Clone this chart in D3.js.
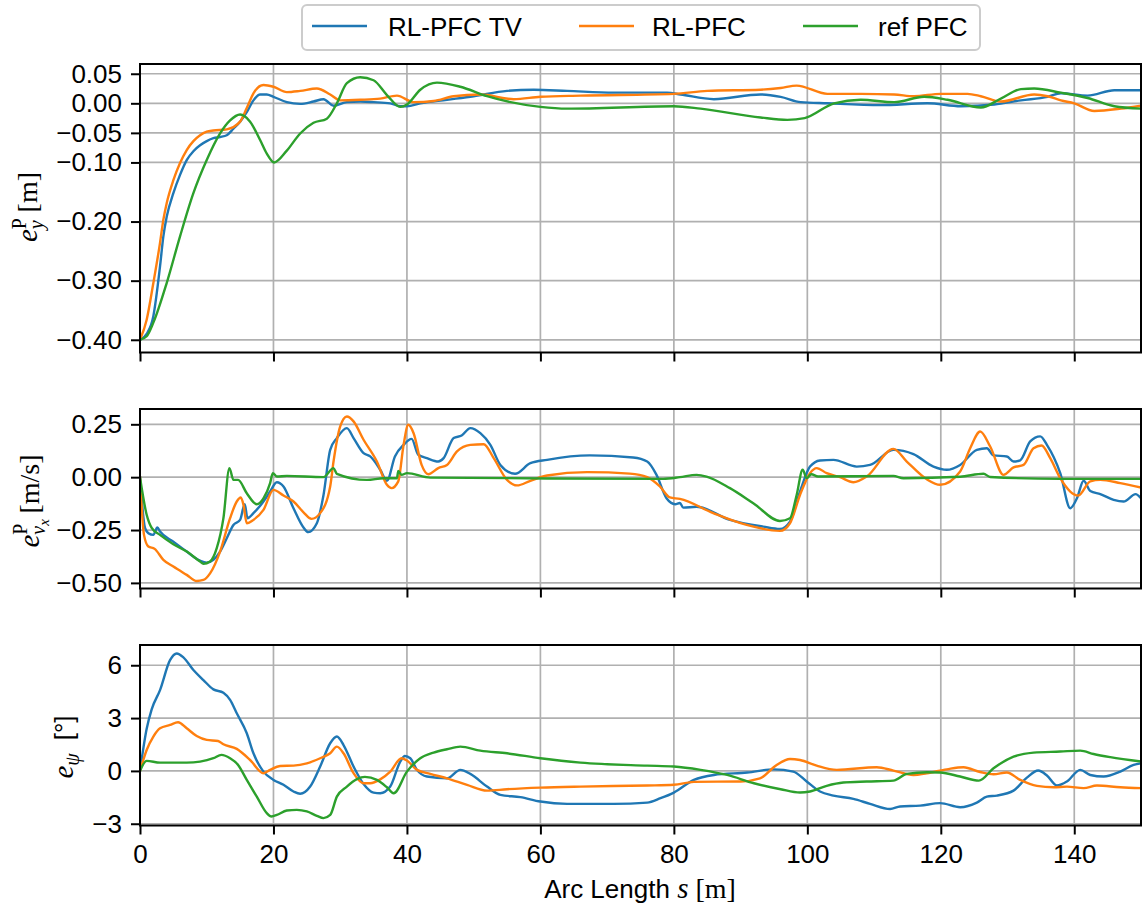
<!DOCTYPE html>
<html><head><meta charset="utf-8">
<script src="https://cdn.jsdelivr.net/npm/d3@7"></script>
<style>body{margin:0;background:#fff} svg{display:block}</style>
</head><body><svg id="c" width="1142" height="909"></svg>
<script>
// ---------------- DATA ----------------
const seriesNames = ["RL-PFC TV", "RL-PFC", "ref PFC"];
const seriesColors = ["#1f77b4", "#ff7f0e", "#2ca02c"];
const xTicks = [0, 20, 40, 60, 80, 100, 120, 140];
const eyTicks = [0.05, 0.00, -0.05, -0.10, -0.20, -0.30, -0.40];
const evTicks = [0.25, 0.00, -0.25, -0.50];
const epTicks = [6, 3, 0, -3];

// Panel 1: lateral error e_y [m]
const eyTvS = [0,1,2,3,3.5,4,5,6,7,8,9,10,11,12,13,14,15,16,17,18,19,20,22,24,26,27.5,29,31,33,35,37.5,39,40,42,46,50,55,59,64,71,79,81,86,93,96,99,103,111,118,123,128,132,136,138,142,146,150];
const eyTvV = [-0.40,-0.39,-0.36,-0.276,-0.225,-0.192,-0.152,-0.121,-0.096,-0.081,-0.071,-0.064,-0.059,-0.057,-0.054,-0.043,-0.031,-0.015,0.005,0.015,0.015,0.011,0.002,-0.001,0.003,0.007,-0.004,0.002,0.003,0.002,0.0,-0.005,-0.005,0.0,0.006,0.012,0.021,0.023,0.021,0.018,0.018,0.015,0.007,0.015,0.011,0.002,0.0,-0.003,0.0,-0.005,-0.002,0.005,0.011,0.017,0.013,0.022,0.022];
const eyRlS = [0,1,2,3,3.5,4,5,6,7,8,9,10,11,13,15,16,17,18.5,20,22,24,26.5,28.5,30,33,36,38.5,41,44,47,51,56,60,66,80,85,93,96,98.4,103,108,113,116,120,124,126,129,134,136,138,140,143,147,150];
const eyRlV = [-0.40,-0.366,-0.304,-0.236,-0.197,-0.169,-0.13,-0.101,-0.079,-0.064,-0.054,-0.048,-0.046,-0.044,-0.031,-0.008,0.017,0.031,0.028,0.019,0.021,0.025,0.015,0.005,0.006,0.008,0.013,0.002,0.004,0.012,0.015,0.007,0.011,0.013,0.016,0.021,0.023,0.026,0.030,0.016,0.016,0.015,0.012,0.016,0.016,0.012,0.003,0.015,0.012,0.005,0.0,-0.013,-0.009,-0.004];
const eyRefS = [0,1,2,4,6,8,10,12,13.5,15,16.5,18,19,20.1,22,24,26,28,29.5,31,33,35,37,39,40,42,44.5,48,52,60,64,80,84,93,97,99.6,104,108,113,117.5,121,126,129,132,134,138,142,146,150];
const eyRefV = [-0.40,-0.394,-0.371,-0.304,-0.225,-0.152,-0.096,-0.051,-0.029,-0.019,-0.031,-0.062,-0.085,-0.10,-0.08,-0.051,-0.033,-0.026,0.0,0.034,0.044,0.039,0.014,-0.006,-0.002,0.023,0.035,0.028,0.012,-0.006,-0.009,-0.005,-0.009,-0.024,-0.028,-0.025,0.0,0.006,0.002,0.011,0.006,-0.007,0.008,0.024,0.025,0.018,0.009,-0.005,-0.009];

// Panel 2: velocity error e_vx [m/s]
const evTvS = [0,0.75,1.25,2,2.6,3,5,7,9,10,11,12,13,14,15,15.7,16.1,17,18.5,19.5,20.5,21.5,23,24.5,25.2,26.5,27.5,28.5,29.5,31,32,33.5,34.5,36,37,38.2,39.5,40.7,41.7,43,44.7,45.5,47,48.2,49.5,51,52.5,54,56.2,58.5,61,67.4,73.9,76,77.4,78.9,80.2,80.9,81.4,83.4,88.4,93.4,95.9,97.4,98.9,100.4,101.9,103.9,107.4,109.4,112.9,115.9,118.9,120.9,122.9,125.4,126.9,127.9,129.9,130.9,131.9,133.4,134.9,135.9,137.9,139.4,140.4,141.4,142.4,143.9,145.9,147.4,149.2,150];
const evTvV = [0,-0.24,-0.265,-0.273,-0.238,-0.257,-0.305,-0.352,-0.395,-0.404,-0.391,-0.352,-0.289,-0.226,-0.202,-0.128,-0.194,-0.17,-0.115,-0.068,-0.024,-0.044,-0.147,-0.238,-0.26,-0.218,-0.084,0.129,0.185,0.232,0.185,0.114,0.098,0.035,-0.017,0.098,0.153,0.181,0.106,0.09,0.074,0.09,0.185,0.197,0.232,0.208,0.153,0.058,0.016,0.066,0.082,0.103,0.093,0.074,0.011,-0.1,-0.128,-0.122,-0.144,-0.14,-0.202,-0.234,-0.245,-0.21,-0.068,0.05,0.079,0.082,0.05,0.058,0.129,0.109,0.05,0.035,0.058,0.129,0.137,0.103,0.098,0.074,0.08,0.169,0.193,0.153,0.019,-0.147,-0.1,-0.017,-0.065,-0.08,-0.107,-0.115,-0.08,-0.1];
const evRlS = [0,0.6,1.25,2.2,3.5,5,7,8.5,9.5,10.5,12,13.5,14.5,15.1,15.5,16,17,18.5,20,21.5,23,24.5,25.7,27,28.5,29,30,31,32,33.5,35.5,37,37.7,38.7,39.5,40.2,41,42.2,43.2,44.7,46,47.5,49.5,51.5,53,55,56.5,58.5,61,67,73.4,76,77.9,79.4,80.9,85.9,90.9,95.9,97.4,98.9,100.4,101.4,102.9,104.9,106.9,108.9,112.9,114.9,117.9,119.9,122.9,124.4,125.9,127.4,129.4,130.9,132.4,133.9,135.1,136.4,137.9,139.4,140.6,142.4,143.9,146.9,150];
const evRlV = [0,-0.273,-0.328,-0.339,-0.391,-0.423,-0.462,-0.491,-0.486,-0.455,-0.352,-0.194,-0.115,-0.096,-0.13,-0.218,-0.202,-0.155,-0.06,-0.087,-0.115,-0.166,-0.197,-0.17,-0.044,0.074,0.24,0.287,0.264,0.177,0.074,-0.036,-0.052,-0.02,0.153,0.248,0.208,0.058,0.014,0.043,0.058,0.122,0.153,0.156,0.09,-0.013,-0.039,-0.017,0.008,0.024,0.017,0.0,-0.044,-0.096,-0.103,-0.17,-0.226,-0.254,-0.218,-0.084,0.019,0.043,0.019,0.0,-0.024,0.003,0.134,0.074,-0.01,-0.036,0.027,0.137,0.216,0.145,0.011,0.046,0.058,0.137,0.15,0.09,-0.005,-0.068,-0.087,-0.02,-0.013,-0.028,-0.049];
const evRefS = [0,1,1.75,3,5,7,9,9.5,10.5,11.5,12.5,13.4,14,14.7,16,17.5,18.5,19.5,19.9,20.5,22,27.5,29,29.5,34,36.5,38.5,38.7,39.2,40,43.5,61,78.4,80.9,83.4,84.9,88.4,91.9,95.9,97.4,98.4,99.3,99.9,100.6,101.6,112.9,114.4,122.9,126.4,127.4,137.9,150];
const evRefV = [0,-0.178,-0.24,-0.273,-0.317,-0.352,-0.399,-0.41,-0.399,-0.336,-0.194,0.043,-0.013,-0.013,-0.076,-0.128,-0.1,-0.028,0.019,0.003,0.006,0.0,0.043,0.016,-0.013,-0.005,-0.005,0.03,0.011,0.019,-0.002,-0.006,-0.008,0.0,0.011,0.003,-0.052,-0.123,-0.207,-0.194,-0.084,0.035,-0.005,0.014,0.003,0.006,-0.005,0.002,0.016,0.001,-0.008,-0.008];

// Panel 3: heading error e_psi [deg]
const epTvS = [0,1,1.75,3,4.5,5.5,6.5,8,9.5,11,12.5,13.5,14.5,16,17,18.5,20,21.5,23,24,25.5,27,28.5,29.5,30.5,32,33.5,35,36,37.5,39,39.7,40.5,41.5,43,46,48,49.5,52,54,57,60,64,71,76,78,80,83,86,91,95,97.9,99.9,101.9,103.9,106.9,109.4,112.4,113.9,116.9,119.9,122.9,125.4,126.9,128.4,130.9,132.9,134.6,135.9,137.4,138.9,140.9,142.4,144.4,146.9,148.9,150];
const epTvV = [0,2.4,3.5,4.59,6.29,6.67,6.45,5.73,5.16,4.63,4.44,4.03,3.27,2.14,1.0,-0.04,-0.51,-0.79,-1.17,-1.3,-0.89,0.25,1.57,1.95,1.47,0.25,-0.74,-1.23,-1.27,-0.89,0.53,0.85,0.72,0.06,-0.32,-0.42,0.06,-0.17,-0.89,-1.36,-1.49,-1.74,-1.87,-1.87,-1.8,-1.55,-1.23,-0.51,-0.23,-0.09,0.09,-0.04,-0.6,-1.17,-1.4,-1.59,-1.87,-2.16,-2.02,-1.97,-1.83,-2.06,-1.8,-1.46,-1.4,-1.12,-0.38,0.02,-0.26,-0.83,-0.6,0.06,-0.23,-0.32,-0.04,0.34,0.43];
const epRlS = [0,1,2,3,4.5,5.7,7,8.5,10,11.7,12.5,14.5,16.5,18.5,19.5,21,23,25,27,28.5,29.5,30.5,32,33.5,34.5,36,37.5,39.2,40,41.5,43.5,46,49,52,55,60,66,76,80,83,90,92.9,95.4,97.4,98.9,101.4,104.4,110.4,112.9,115.9,117.9,120.9,123.4,125.9,127.9,129.9,131.9,134.4,136.9,138.9,141.4,143.4,146.9,150];
const epRlV = [0,1.19,1.95,2.42,2.61,2.76,2.42,1.98,1.76,1.7,1.51,1.25,0.62,-0.13,0.06,0.28,0.3,0.43,0.72,1.0,1.38,1.0,-0.13,-0.7,-0.7,-0.48,-0.04,0.72,0.59,0.06,-0.17,-0.42,-0.79,-1.12,-1.04,-0.95,-0.89,-0.83,-0.79,-0.62,-0.6,-0.42,0.34,0.68,0.62,0.3,0.06,0.21,0.02,-0.23,-0.13,0.09,0.21,-0.06,-0.19,-0.09,-0.51,-0.85,-0.93,-0.89,-0.98,-0.83,-0.93,-0.98];
const epRefS = [0,1,3,7,9,11,12.2,13.5,14.7,16,17.5,19,19.7,20.5,22,23.5,25,26.5,27.5,28.5,29.5,31,32.5,33.7,35.5,37,38,40,42,44,46,48,51,55,60,66,76,80,84,88,92,96,98.9,100.4,102.9,105.4,108.9,112.9,114.9,117.9,119.9,122.9,125.7,127.9,130.9,133.9,137.9,140.9,142.9,145.4,150];
const epRefV = [0,0.57,0.47,0.47,0.53,0.72,0.91,0.72,0.34,-0.51,-1.46,-2.4,-2.59,-2.5,-2.25,-2.21,-2.3,-2.55,-2.68,-2.5,-1.46,-0.89,-0.47,-0.34,-0.51,-0.93,-1.27,-0.04,0.72,1.04,1.23,1.38,1.15,1.0,0.72,0.47,0.3,0.25,0.06,-0.23,-0.7,-1.04,-1.23,-1.17,-0.85,-0.66,-0.6,-0.55,-0.17,-0.08,-0.09,-0.32,-0.55,0.15,0.81,1.04,1.1,1.15,0.96,0.78,0.53];

// ---------------- DRAWING ----------------
const SANS = '"Liberation Sans", Arial, Helvetica, sans-serif';
const SERIF = '"Liberation Serif", "Times New Roman", serif';
const FS = 26;
const svg = d3.select('#c');
const X0 = 140, X1 = 1141;
const x = d3.scaleLinear().domain([0, 150]).range([X0, X1]);
const zip = (s, v) => s.map((d, i) => [d, v[i]]);

const panels = [
  { top: 64, bottom: 352.5, domain: [-0.4215, 0.0665], ticks: eyTicks, fmt: d3.format('.2f'),
    data: [zip(eyTvS, eyTvV), zip(eyRlS, eyRlV), zip(eyRefS, eyRefV)], xLabels: false },
  { top: 409, bottom: 588.5, domain: [-0.5265, 0.3224], ticks: evTicks, fmt: d3.format('.2f'),
    data: [zip(evTvS, evTvV), zip(evRlS, evRlV), zip(evRefS, evRefV)], xLabels: false },
  { top: 645, bottom: 825.5, domain: [-3.1, 7.15], ticks: epTicks, fmt: d3.format('d'),
    data: [zip(epTvS, epTvV), zip(epRlS, epRlV), zip(epRefS, epRefV)], xLabels: true }
];

const defs = svg.append('defs');
panels.forEach((p, pi) => {
  const y = d3.scaleLinear().domain(p.domain).range([p.bottom, p.top]);
  defs.append('clipPath').attr('id', 'clip' + pi).append('rect')
    .attr('x', X0).attr('y', p.top).attr('width', X1 - X0).attr('height', p.bottom - p.top);
  const g = svg.append('g');
  g.selectAll('.gx').data(xTicks).enter().append('line')
    .attr('x1', d => x(d)).attr('x2', d => x(d)).attr('y1', p.top).attr('y2', p.bottom)
    .attr('stroke', '#b0b0b0').attr('stroke-width', 1.7);
  g.selectAll('.gy').data(p.ticks).enter().append('line')
    .attr('x1', X0).attr('x2', X1).attr('y1', d => y(d)).attr('y2', d => y(d))
    .attr('stroke', '#b0b0b0').attr('stroke-width', 1.7);
  const line = d3.line().x(d => x(d[0])).y(d => y(d[1])).curve(d3.curveMonotoneX);
  const lg = g.append('g').attr('clip-path', `url(#clip${pi})`);
  p.data.forEach((ser, si) => {
    lg.append('path').attr('d', line(ser)).attr('fill', 'none')
      .attr('stroke', seriesColors[si]).attr('stroke-width', 2.4)
      .attr('stroke-linejoin', 'round').attr('stroke-linecap', 'square');
  });
  g.append('rect').attr('x', X0).attr('y', p.top).attr('width', X1 - X0).attr('height', p.bottom - p.top)
    .attr('fill', 'none').attr('stroke', '#000').attr('stroke-width', 2);
  const ya = g.append('g').attr('transform', `translate(${X0},0)`)
    .call(d3.axisLeft(y).tickValues(p.ticks).tickFormat(p.fmt).tickSize(9).tickPadding(9));
  ya.select('.domain').remove();
  ya.selectAll('line').attr('stroke', '#000').attr('stroke-width', 2);
  ya.selectAll('text').attr('font-family', SANS).attr('font-size', FS).attr('fill', '#000');
  const xa = g.append('g').attr('transform', `translate(0,${p.bottom})`)
    .call(d3.axisBottom(x).tickValues(xTicks).tickFormat(p.xLabels ? d3.format('d') : '').tickSize(9).tickPadding(10));
  xa.select('.domain').remove();
  xa.selectAll('line').attr('stroke', '#000').attr('stroke-width', 2);
  xa.selectAll('text').attr('font-family', SANS).attr('font-size', FS).attr('fill', '#000');
});

// math-like label helper; part.back = number of previous spans to stack under
function addLabel(tx, ty, rotate, parts) {
  const g = svg.append('g').attr('transform', `translate(${tx},${ty}) rotate(${rotate})`);
  const t = g.append('text').attr('text-anchor', 'middle').attr('fill', '#000');
  const spans = parts.map(pt => t.append('tspan')
    .attr('font-family', pt.f).attr('font-style', pt.it ? 'italic' : 'normal')
    .attr('font-size', pt.s).attr('dy', pt.dy || 0).text(pt.t));
  parts.forEach((pt, i) => {
    if (pt.back) {
      let wPrev = 0;
      for (let k = 1; k <= pt.back; k++) wPrev += spans[i - k].node().getComputedTextLength();
      const wCur = spans[i].node().getComputedTextLength();
      spans[i].attr('dx', -wPrev);
      if (spans[i + 1] && wPrev > wCur) spans[i + 1].attr('dx', wPrev - wCur);
    }
  });
  return t;
}

addLabel(37, 207, -90, [
  { t: 'e', f: SERIF, it: true, s: 29 },
  { t: 'y', f: SERIF, it: true, s: 20, dy: 6 },
  { t: 'P', f: SERIF, s: 20, dy: -17, back: 1 },
  { t: '\u2009[m]', f: SERIF, s: 28, dy: 11 }
]);
addLabel(39, 501, -90, [
  { t: 'e', f: SERIF, it: true, s: 29 },
  { t: 'v', f: SERIF, it: true, s: 20, dy: 6 },
  { t: 'x', f: SERIF, it: true, s: 15, dy: 4 },
  { t: 'P', f: SERIF, s: 20, dy: -22, back: 2 },
  { t: '\u2009[m/s]', f: SERIF, s: 28, dy: 12 }
]);
addLabel(73, 747, -90, [
  { t: 'e', f: SERIF, it: true, s: 29 },
  { t: '\u03c8', f: SERIF, it: true, s: 20, dy: 6 },
  { t: '\u2002[°]', f: SANS, s: FS, dy: -6 }
]);

addLabel(640, 898, 0, [
  { t: 'Arc Length ', f: SANS, s: FS },
  { t: 's', f: SERIF, it: true, s: 29 },
  { t: ' [m]', f: SERIF, s: 28 }
]);

const leg = svg.append('g');
leg.append('rect').attr('x', 302).attr('y', 5).attr('width', 678).attr('height', 45).attr('rx', 5)
  .attr('fill', '#fff').attr('stroke', '#cccccc').attr('stroke-width', 2);
const legX = [312, 579, 803];
const legT = [388, 652, 878];
seriesNames.forEach((n, i) => {
  leg.append('line').attr('x1', legX[i]).attr('x2', legX[i] + 55).attr('y1', 26).attr('y2', 26)
    .attr('stroke', seriesColors[i]).attr('stroke-width', 2.4);
  leg.append('text').attr('x', legT[i]).attr('y', 36).attr('font-family', SANS).attr('font-size', FS)
    .attr('fill', '#000').text(n);
});
</script></body></html>
